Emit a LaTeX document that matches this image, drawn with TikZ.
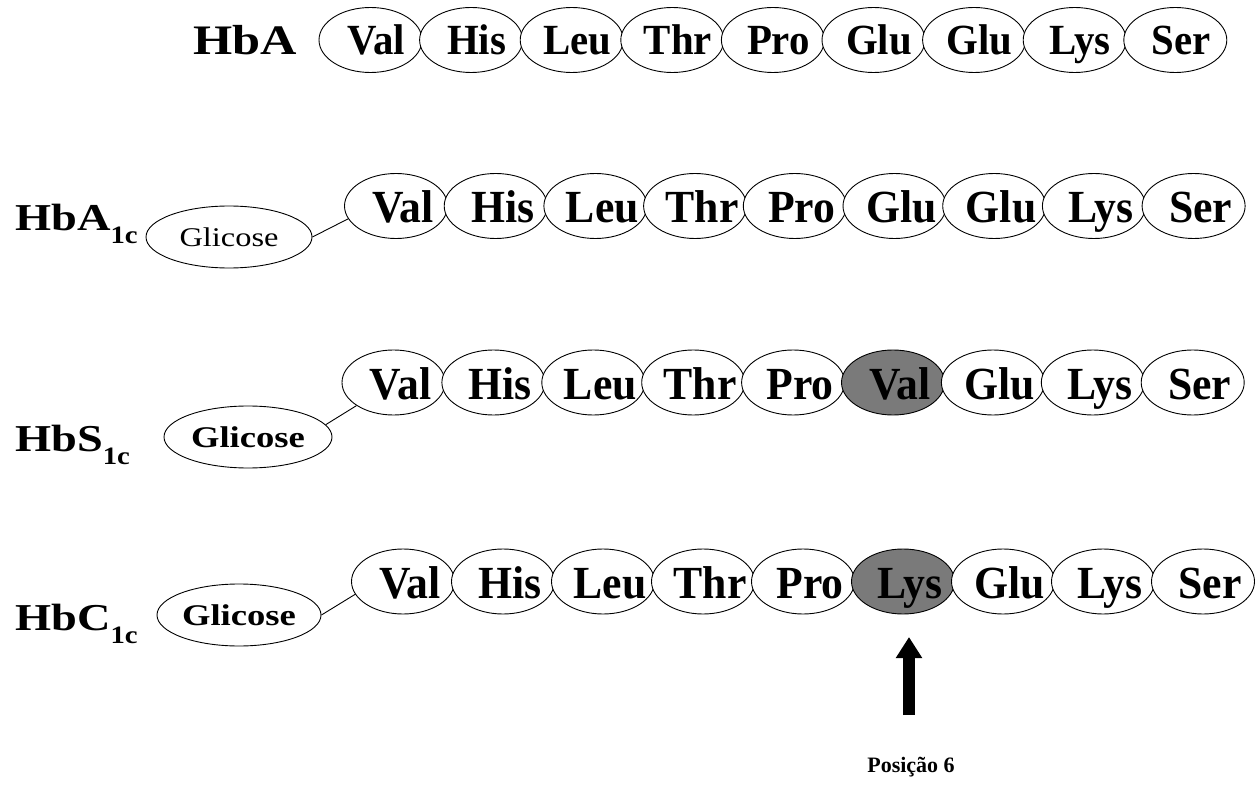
\documentclass[tikz,border=0pt]{standalone}
\usepackage{fontspec}
\setmainfont{Liberation Serif}
\usetikzlibrary{shapes.geometric,arrows.meta}
\definecolor{mutfill}{RGB}{122,122,122}
\tikzset{
  aa/.style={ellipse, draw=black, line width=0.9pt, minimum width=103pt,
    minimum height=65pt, inner sep=0pt, text height=36pt, text depth=2pt,
    font=\fontsize{46}{46}\selectfont\bfseries},
  aatop/.style={aa, text height=32pt, text depth=2pt,
    font=\fontsize{43}{43}\selectfont\bfseries},
  sugar/.style={ellipse, draw=black, line width=0.9pt, minimum width=166pt,
    minimum height=62pt, inner sep=0pt},
  hblabel/.style={anchor=base west, inner sep=0pt, font=\bfseries},
  link/.style={draw=black, line width=0.9pt},
}
% residue text, slightly narrowed and pushed to the right of the ellipse centre
\newcommand{\aat}[2]{\makebox[0pt]{\hspace{#1}\scalebox{0.95}[1]{#2}}}
% label with a widened main part and a lowered "1c"
\newcommand{\hbsub}[1]{\scalebox{1.22}[1]{\fontsize{38}{38}\selectfont #1}\raisebox{-13pt}{\scalebox{1.15}[1]{\fontsize{25}{25}\selectfont 1c}}}
\begin{document}
\begin{tikzpicture}[x=1pt,y=-1pt]
\useasboundingbox[fill=white] (0,0) rectangle (1258,786);

% ---- HbA ----
\node[hblabel] (lA) at (193,55) {\scalebox{1.2}[1]{\fontsize{42}{42}\selectfont HbA}};
\foreach \aname/\fc [count=\i from 0] in {Val/white,His/white,Leu/white,Thr/white,Pro/white,Glu/white,Glu/white,Lys/white,Ser/white}
  \node[aatop, fill=\fc] (a\i) at (370.5+100.6*\i, 40) {\aat{11pt}{\aname}};

% ---- HbA1c ----
\node[hblabel] (lA1c) at (15,231) {\hbsub{HbA}};
\node[sugar] (g2) at (229,237) {\scalebox{1.2}[1]{\fontsize{27}{27}\selectfont Glicose}};
\foreach \aname/\fc [count=\i from 0] in {Val/white,His/white,Leu/white,Thr/white,Pro/white,Glu/white,Glu/white,Lys/white,Ser/white}
  \node[aa, fill=\fc] (b\i) at (396+99.7*\i, 206) {\aat{14pt}{\aname}};
\draw[link] (g2.east) -- (b0.195);

% ---- HbS1c ----
\node[hblabel] (lS1c) at (15,451) {\hbsub{HbS}};
\node[sugar, minimum width=168pt] (g3) at (248,437) {\scalebox{1.22}[1]{\fontsize{30}{30}\selectfont\bfseries Glicose}};
\foreach \aname/\fc [count=\i from 0] in {Val/white,His/white,Leu/white,Thr/white,Pro/white,Val/mutfill,Glu/white,Lys/white,Ser/white}
  \node[aa, fill=\fc] (c\i) at (393.5+99.9*\i, 382.5) {\aat{14pt}{\aname}};
\draw[link] (g3.9) -- (c0.212);

% ---- HbC1c ----
\node[hblabel] (lC1c) at (15,630) {\hbsub{HbC}};
\node[sugar, minimum width=164pt] (g4) at (239,615) {\scalebox{1.22}[1]{\fontsize{30}{30}\selectfont\bfseries Glicose}};
\foreach \aname/\fc [count=\i from 0] in {Val/white,His/white,Leu/white,Thr/white,Pro/white,Lys/mutfill,Glu/white,Lys/white,Ser/white}
  \node[aa, fill=\fc] (d\i) at (403+100*\i, 581.5) {\aat{14pt}{\aname}};
\draw[link] (g4.east) -- (d0.195);

% ---- marker for position 6 ----
\coordinate (tail) at (909,715);
\coordinate (tip) at (909,637);
\draw[line width=12pt, -{Triangle[width=25pt,length=21pt]}] (tail) -- (tip);
\node[anchor=base, inner sep=0pt, font=\fontsize{22}{22}\selectfont\bfseries] (pos) at (911,772) {Posição 6};
\end{tikzpicture}
\end{document}
